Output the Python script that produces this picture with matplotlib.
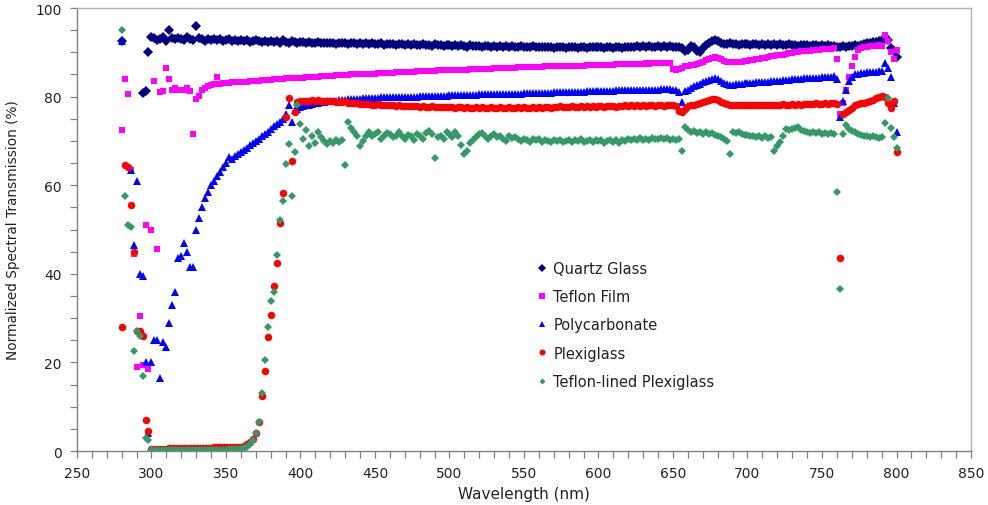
import numpy as np
import matplotlib
matplotlib.use('Agg')
import matplotlib.pyplot as plt
from matplotlib.ticker import MultipleLocator

nan = np.nan

# wavelength grid of the spectrometer (nm)
wavelength = np.arange(280, 801, 2)

# values, one row = 20 nm
quartz = [
    92.5, nan, nan, nan, nan, nan, nan, 80.8, 81.2, 90.0,
    93.5, 93.2, 92.8, 93.1, 93.4, 92.6, 95.0, 93.3, 92.9, 93.2,
    93.0, 92.7, 93.4, 93.1, 92.8, 96.0, 93.2, 92.9, 92.6, 93.0,
    92.8, 93.0, 92.7, 92.9, 92.6, 92.8, 92.9, 92.5, 92.7, 92.6,
    92.8, 92.5, 92.7, 92.4, 92.6, 92.8, 92.5, 92.3, 92.6, 92.4,
    92.6, 92.3, 92.5, 92.2, 92.8, 92.4, 92.1, 92.5, 92.3, 92.2,
    92.4, 92.3, 92.1, 92.4, 92.2, 92.0, 92.3, 92.1, 92.2, 92.0,
    92.1, 92.2, 91.9, 92.1, 92.0, 92.2, 91.9, 92.0, 92.1, 91.8,
    92.0, 91.9, 92.1, 91.8, 92.0, 91.9, 91.8, 92.0, 91.7, 91.9,
    91.8, 91.9, 91.7, 91.8, 91.9, 91.6, 91.8, 91.7, 91.9, 91.6,
    91.7, 91.8, 91.6, 91.7, 91.5, 91.8, 91.6, 91.7, 91.5, 91.6,
    91.6, 91.5, 91.7, 91.4, 91.6, 91.5, 91.3, 91.6, 91.4, 91.5,
    91.5, 91.3, 91.5, 91.4, 91.2, 91.5, 91.3, 91.4, 91.2, 91.4,
    91.3, 91.4, 91.2, 91.3, 91.4, 91.1, 91.3, 91.2, 91.4, 91.2,
    91.3, 91.2, 91.1, 91.3, 91.2, 91.0, 91.2, 91.1, 91.3, 91.0,
    91.2, 91.1, 91.3, 91.0, 91.2, 91.1, 91.0, 91.2, 91.1, 91.2,
    91.1, 91.2, 91.0, 91.1, 91.3, 91.0, 91.2, 91.1, 91.0, 91.2,
    91.1, 91.3, 91.2, 91.4, 91.3, 91.5, 91.3, 91.4, 91.2, 91.3,
    91.4, 91.3, 91.5, 91.2, 91.4, 91.3, 91.1, 91.3, 91.0, 90.4,
    90.6, 91.4, 91.2, 90.3, 90.1, 90.9, 91.6, 92.2, 92.6, 92.8,
    92.5, 92.2, 91.9, 91.8, 92.0, 91.8, 91.9, 91.7, 91.9, 91.8,
    91.9, 91.7, 91.8, 91.9, 91.7, 91.8, 91.6, 91.8, 91.7, 91.9,
    91.7, 91.8, 91.6, 91.7, 91.8, 91.6, 91.7, 91.5, 91.7, 91.6,
    91.7, 91.5, 91.6, 91.7, 91.5, 91.6, 91.4, 91.6, 91.5, 91.4,
    91.3, 91.2, 91.4, 91.3, 91.5, 91.4, 91.6, 91.5, 91.7, 91.8,
    92.0, 92.2, 92.4, 92.3, 92.5, 92.6, 93.5, 92.8, 91.0, 90.2,
    89.0,
]

teflon = [
    72.5, 84.0, 80.5, 63.5, 44.5, 19.0, 30.5, 19.5, 51.0, 18.5,
    50.0, 83.5, 45.5, 81.0, 81.2, 86.5, 84.0, 81.5, 82.0, 81.5,
    81.5, 81.6, 82.0, 81.2, 71.5, 79.5, 80.2, 81.5, 82.0, 82.4,
    82.6, 82.8, 84.5, 82.9, 83.0, 83.0, 83.1, 83.2, 83.2, 83.3,
    83.3, 83.4, 83.4, 83.5, 83.5, 83.6, 83.6, 83.7, 83.7, 83.8,
    83.8, 83.9, 83.9, 84.0, 84.0, 84.1, 84.1, 84.2, 84.2, 84.3,
    84.3, 84.3, 84.4, 84.4, 84.5, 84.5, 84.5, 84.6, 84.6, 84.7,
    84.7, 84.7, 84.8, 84.8, 84.9, 84.9, 84.9, 85.0, 85.0, 85.0,
    85.1, 85.1, 85.1, 85.2, 85.2, 85.2, 85.3, 85.3, 85.3, 85.4,
    85.4, 85.4, 85.5, 85.5, 85.5, 85.5, 85.6, 85.6, 85.6, 85.7,
    85.7, 85.7, 85.7, 85.8, 85.8, 85.8, 85.9, 85.9, 85.9, 85.9,
    86.0, 86.0, 86.0, 86.0, 86.1, 86.1, 86.1, 86.2, 86.2, 86.2,
    86.2, 86.3, 86.3, 86.3, 86.3, 86.4, 86.4, 86.4, 86.4, 86.5,
    86.5, 86.5, 86.5, 86.6, 86.6, 86.6, 86.6, 86.7, 86.7, 86.7,
    86.7, 86.7, 86.8, 86.8, 86.8, 86.8, 86.9, 86.9, 86.9, 86.9,
    86.9, 87.0, 87.0, 87.0, 87.0, 87.0, 87.1, 87.1, 87.1, 87.1,
    87.1, 87.2, 87.2, 87.2, 87.2, 87.2, 87.3, 87.3, 87.3, 87.3,
    87.3, 87.4, 87.4, 87.4, 87.4, 87.4, 87.5, 87.4, 87.5, 87.5,
    87.5, 87.5, 87.6, 87.5, 87.6, 86.2, 86.0, 86.3, 86.5, 86.8,
    87.0, 87.2, 87.1, 87.4, 87.6, 87.9, 88.2, 88.5, 88.8, 89.0,
    88.7, 88.4, 88.1, 87.9, 87.8, 87.7, 87.8, 87.8, 87.9, 88.0,
    88.1, 88.2, 88.3, 88.4, 88.6, 88.7, 88.8, 88.9, 89.1, 89.2,
    89.3, 89.4, 89.5, 89.7, 89.8, 89.9, 90.0, 90.1, 90.2, 90.3,
    90.4, 90.4, 90.5, 90.6, 90.6, 90.7, 90.7, 90.8, 90.8, 90.9,
    88.5, 76.0, 78.5, 81.5, 84.5, 87.0, 89.0, 90.5, 91.0, 91.2,
    91.3, 91.4, 91.4, 91.5, 91.6, 91.5, 94.0, 92.5, 90.0, 88.5,
    90.5,
]

polycarbonate = [
    92.5, nan, nan, 63.5, 46.5, 61.0, 40.0, 39.5, 20.0, 4.0,
    20.0, 25.0, 25.0, 16.5, 24.5, 23.5, 29.0, 33.0, 36.0, 43.5,
    44.0, 47.0, 45.0, 41.5, 41.5, 50.0, 52.5, 55.0, 57.0, 58.5,
    60.0, 61.0, 62.0, 63.0, 64.0, 65.0, 66.3, 66.0, 66.5, 67.0,
    67.5, 68.0, 68.5, 69.0, 69.5, 70.0, 70.5, 71.0, 71.5, 72.0,
    72.8, 73.3, 73.8, 74.3, 75.0, 76.0, 78.0, 74.2, 77.0, 77.3,
    77.6, 77.8, 78.0, 78.2, 78.3, 78.5, 78.6, 78.7, 78.8, 78.9,
    79.0, 79.1, 79.1, 79.2, 79.3, 79.3, 79.4, 79.4, 79.5, 79.5,
    79.5, 79.6, 79.6, 79.6, 79.7, 79.7, 79.7, 79.8, 79.8, 79.8,
    79.8, 79.9, 79.9, 79.9, 79.9, 80.0, 80.0, 80.0, 80.0, 80.0,
    80.1, 80.1, 80.1, 80.1, 80.1, 80.2, 80.2, 80.2, 80.2, 80.2,
    80.3, 80.3, 80.3, 80.3, 80.3, 80.4, 80.4, 80.4, 80.4, 80.4,
    80.5, 80.5, 80.5, 80.5, 80.5, 80.6, 80.6, 80.6, 80.6, 80.6,
    80.7, 80.7, 80.7, 80.7, 80.7, 80.8, 80.8, 80.8, 80.8, 80.8,
    80.9, 80.9, 80.9, 80.9, 80.9, 81.0, 81.0, 81.0, 81.0, 81.0,
    81.0, 81.1, 81.1, 81.1, 81.1, 81.1, 81.2, 81.2, 81.2, 81.2,
    81.2, 81.3, 81.3, 81.3, 81.3, 81.3, 81.4, 81.4, 81.4, 81.4,
    81.4, 81.5, 81.5, 81.5, 81.5, 81.5, 81.6, 81.6, 81.6, 81.6,
    81.6, 81.7, 81.7, 81.7, 81.7, 81.6, 81.4, 81.0, 78.8, 81.2,
    81.6, 82.0, 82.3, 82.6, 82.9, 83.2, 83.5, 83.7, 84.0, 84.2,
    83.9, 83.5, 83.1, 82.8, 82.7, 82.7, 82.8, 82.8, 82.9, 83.0,
    83.0, 83.1, 83.1, 83.2, 83.3, 83.3, 83.4, 83.4, 83.5, 83.5,
    83.6, 83.6, 83.7, 83.8, 83.8, 83.9, 83.9, 84.0, 84.0, 84.1,
    84.1, 84.2, 84.2, 84.3, 84.3, 84.4, 84.4, 84.5, 84.5, 84.6,
    84.0, 75.5, 79.0, 81.5, 83.5, 84.5, 85.0, 85.2, 85.3, 85.4,
    85.5, 85.5, 85.6, 85.6, 85.7, 85.8, 87.5, 86.5, 84.5, 78.5,
    72.0,
]

plexiglass = [
    28.0, 64.5, 64.0, 55.5, 45.0, 27.0, 27.2, 26.0, 7.0, 4.5,
    0.4, 0.5, 0.5, 0.5, 0.5, 0.5, 0.6, 0.6, 0.6, 0.6,
    0.6, 0.6, 0.6, 0.6, 0.7, 0.7, 0.7, 0.7, 0.7, 0.7,
    0.7, 0.8, 0.8, 0.8, 0.8, 0.9, 0.9, 0.9, 1.0, 1.0,
    1.0, 1.2, 1.5, 2.0, 2.8, 4.0, 6.5, 12.5, 18.0, 25.8,
    30.8, 37.3, 42.4, 51.4, 58.2, 75.5, 79.7, 65.5, 76.5, 78.7,
    78.9, 79.0, 79.1, 79.0, 79.2, 79.1, 79.2, 79.0, 79.1, 79.0,
    78.9, 78.9, 78.8, 78.8, 78.7, 78.9, 78.6, 78.6, 78.5, 78.5,
    78.4, 78.4, 78.3, 78.3, 78.2, 78.2, 78.3, 78.1, 78.1, 78.0,
    78.0, 78.0, 77.9, 78.0, 77.9, 77.8, 77.9, 77.8, 77.8, 77.9,
    77.7, 77.8, 77.7, 77.7, 77.8, 77.6, 77.7, 77.6, 77.7, 77.6,
    77.7, 77.6, 77.5, 77.7, 77.6, 77.5, 77.6, 77.4, 77.5, 77.6,
    77.5, 77.6, 77.4, 77.5, 77.6, 77.4, 77.5, 77.6, 77.5, 77.4,
    77.6, 77.5, 77.4, 77.6, 77.5, 77.6, 77.4, 77.5, 77.7, 77.5,
    77.6, 77.5, 77.7, 77.6, 77.5, 77.7, 77.6, 77.8, 77.6, 77.7,
    77.6, 77.8, 77.7, 77.6, 77.8, 77.7, 77.9, 77.7, 77.8, 77.7,
    77.8, 77.9, 77.7, 77.8, 77.9, 77.8, 77.7, 77.9, 77.8, 78.0,
    77.9, 78.0, 77.8, 78.0, 77.9, 78.1, 77.9, 78.0, 78.1, 77.9,
    78.0, 78.1, 77.9, 78.0, 78.1, 78.0, 77.8, 76.8, 76.6, 77.3,
    77.8, 78.0, 78.2, 78.4, 78.6, 78.8, 79.0, 79.2, 79.4, 79.5,
    79.2, 78.8, 78.5, 78.3, 78.2, 78.2, 78.1, 78.2, 78.0, 78.1,
    78.1, 78.2, 78.0, 78.1, 78.2, 78.1, 78.0, 78.2, 78.1, 78.2,
    78.2, 78.1, 78.3, 78.2, 78.1, 78.3, 78.2, 78.3, 78.2, 78.4,
    78.3, 78.4, 78.3, 78.5, 78.4, 78.3, 78.5, 78.4, 78.6, 78.5,
    78.3, 43.5, 76.0, 76.5, 77.0, 77.5, 78.0, 78.3, 78.5, 78.6,
    78.8, 79.0, 79.3, 79.6, 80.0, 80.2, 79.8, 78.5, 77.5, 79.0,
    67.5,
]

teflon_plexiglass = [
    95.0, 57.5, 51.0, 50.5, 22.5, 27.0, 26.0, 17.0, 3.0, 2.5,
    0.3, 0.3, 0.3, 0.2, 0.3, 0.2, 0.3, 0.2, 0.3, 0.2,
    0.3, 0.2, 0.3, 0.2, 0.3, 0.2, 0.3, 0.2, 0.3, 0.2,
    0.3, 0.2, 0.3, 0.3, 0.3, 0.3, 0.4, 0.4, 0.4, 0.5,
    0.5, 0.7, 1.0, 1.5, 2.5, 4.0, 6.5, 13.0, 20.5, 28.0,
    33.9, 36.0, 44.2, 52.2, 56.4, 64.8, 69.3, 57.5, 67.5, 78.0,
    73.8, 70.5, 72.5, 68.9, 71.2, 69.5, 72.0, 70.8, 70.0, 69.3,
    70.0, 69.5, 70.2, 69.7, 70.3, 64.6, 74.2, 73.0, 72.0, 71.2,
    68.9, 70.0, 71.2, 72.0, 71.0, 71.5, 72.0, 70.5, 71.0, 71.8,
    71.5, 70.8, 71.2, 72.0, 71.0, 70.5, 71.3, 71.0, 70.2, 71.5,
    71.0, 70.5, 71.8, 72.2, 71.5, 66.2, 70.8, 71.2, 70.5, 72.0,
    71.5, 70.8, 72.0, 71.2, 69.0, 67.0, 67.8, 69.5, 70.2, 70.8,
    71.5, 71.8, 71.2, 70.5, 71.0, 71.5, 70.8, 71.2, 70.5, 70.0,
    71.2, 70.6, 70.8, 70.4, 70.0, 70.5, 70.2, 69.8, 70.5, 70.1,
    70.4, 69.8, 70.2, 70.0, 69.7, 70.3, 69.9, 70.2, 69.8, 70.0,
    70.3, 69.7, 70.1, 69.9, 70.4, 69.8, 70.0, 70.2, 69.7, 70.1,
    69.9, 70.2, 69.6, 70.0, 70.3, 69.8, 70.1, 69.5, 70.2, 70.0,
    70.4, 70.1, 70.5, 70.3, 70.6, 70.2, 70.5, 70.3, 70.7, 70.4,
    70.5, 70.7, 70.4, 70.6, 70.3, 70.5, 70.2, 70.4, 67.8, 73.1,
    72.5, 72.0, 72.2, 71.8, 72.0, 71.6, 71.9, 71.5, 71.7, 71.3,
    71.2, 70.9, 70.5, 70.0, 67.0, 72.0, 71.8, 72.1, 71.6, 71.4,
    71.3, 71.0, 71.2, 70.8, 71.0, 70.7, 71.0, 70.6, 70.9, 67.8,
    68.8, 69.7, 71.2, 72.8, 72.4, 72.6, 72.9, 73.1, 72.5, 72.2,
    72.0, 71.8, 72.0, 71.7, 71.9, 71.6, 71.8, 71.5, 71.7, 71.5,
    58.5, 36.5, 71.5, 73.5, 72.8, 72.2, 71.9, 71.6, 71.4, 71.2,
    71.0, 70.9, 71.1, 70.8, 70.6, 70.8, 74.0, 79.7, 73.0, 70.8,
    68.5,
]

labels = ['Quartz Glass', 'Teflon Film', 'Polycarbonate', 'Plexiglass',
          'Teflon-lined Plexiglass']

fig = plt.figure(figsize=(9.88, 5.06), dpi=100)
ax = fig.add_axes([0.0779, 0.1067, 0.9049, 0.8755])

ax.plot(wavelength, quartz, 'D', color='#000080', ms=4.8, mew=0, label=labels[0])
ax.plot(wavelength, teflon, 's', color='#ff00ff', ms=5.0, mew=0, label=labels[1])
ax.plot(wavelength, polycarbonate, '^', color='#0000ff', ms=5.6, mew=0, label=labels[2])
ax.plot(wavelength, plexiglass, 'o', color='#ff0000', ms=5.4, mew=0, label=labels[3])
ax.plot(wavelength, teflon_plexiglass, 'D', color='#339966', ms=3.8, mew=0, label=labels[4])

ax.set_xlim(250, 850)
ax.set_ylim(0, 100)
ax.xaxis.set_major_locator(MultipleLocator(50))
ax.xaxis.set_minor_locator(MultipleLocator(10))
ax.yaxis.set_major_locator(MultipleLocator(20))
ax.yaxis.set_minor_locator(MultipleLocator(5))

ax.tick_params(which='both', direction='out', length=5, width=0.9, color='#808080',
               labelsize=10, labelcolor='#222222')
ax.tick_params(axis='y', pad=6)
ax.tick_params(axis='x', pad=6)

for side in ['left', 'bottom']:
    ax.spines[side].set_color('#808080')
    ax.spines[side].set_linewidth(1.0)
for side in ['top', 'right']:
    ax.spines[side].set_color('#b0b0b0')
    ax.spines[side].set_linewidth(1.0)

ax.set_xlabel('Wavelength (nm)', fontsize=11, color='#222222')
ax.set_ylabel('Normalized Spectral Transmission (%)', fontsize=9.8, color='#222222')
ax.xaxis.set_label_coords(0.5, -0.078)
ax.yaxis.set_label_coords(-0.064, 0.5)

leg = ax.legend(loc='upper left', bbox_to_anchor=(0.505, 0.445), frameon=False,
                fontsize=10.5, handlelength=0.8, handletextpad=0.4,
                labelspacing=0.9, borderpad=0, markerscale=0.8)
for t in leg.get_texts():
    t.set_color('#222222')

fig.savefig('out.png', dpi=100)
